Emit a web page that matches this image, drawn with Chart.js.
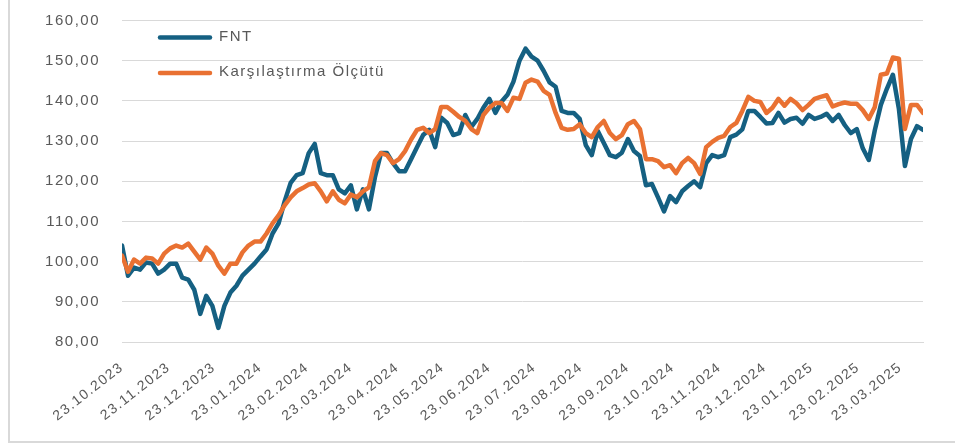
<!DOCTYPE html>
<html>
<head>
<meta charset="utf-8">
<script src="https://cdn.jsdelivr.net/npm/chart.js@4.4.1/dist/chart.umd.min.js"></script>
<style>
    html, body { margin: 0; padding: 0; background: #ffffff; }
    #wrap { width: 955px; height: 445px; }
</style>
</head>
<body>
<div id="wrap"><canvas id="fonChart" width="955" height="445"></canvas></div>
<script>
// x axis tick dates (every 23rd of the month)
const tickLabels = [
    '23.10.2023', '23.11.2023', '23.12.2023', '23.01.2024', '23.02.2024', '23.03.2024',
    '23.04.2024', '23.05.2024', '23.06.2024', '23.07.2024', '23.08.2024', '23.09.2024',
    '23.10.2024', '23.11.2024', '23.12.2024', '23.01.2025', '23.02.2025', '23.03.2025'
];

const seriesNames = ['FNT', 'Karşılaştırma Ölçütü'];

// one value every 4 calendar days starting 23.10.2023
const STEP_DAYS = 4;

const fnt = [
    104, 96.5, 98.5, 98, 99.8, 99.5, 97, 98, 99.5, 99.5,
    96, 95.5, 93, 87, 91.5, 89, 83.5, 89, 92.3, 94,
    96.5, 98, 99.5, 101.3, 103, 107, 109.5, 115, 119.6, 121.5,
    122, 127, 129.3, 122, 121.5, 121.5, 118, 117, 119, 113,
    118, 113, 121, 127, 127, 124.5, 122.5, 122.5, 125.5, 128.5,
    131.5, 132.8, 128.5, 135.8, 134.5, 131.5, 132, 136.5, 133.5, 135.5,
    138.3, 140.5, 137, 139.8, 141.5, 144.8, 150, 153, 151, 150,
    147.5, 144.6, 143.5, 137.5, 137, 137, 135.5, 129, 126.5, 132.5,
    129.5, 126.5, 126, 127.1, 130.5, 127.5, 126.3, 119, 119.3, 116,
    112.5, 116.3, 114.8, 117.5, 118.8, 120, 118.5, 124.5, 126.5, 126,
    126.5, 131, 131.6, 132.9, 137.5, 137.5, 136, 134.4, 134.5, 137,
    134.6, 135.5, 135.8, 134.3, 136.5, 135.5, 136, 136.8, 135, 136.5,
    134, 132, 133, 128.2, 125.3, 132.7, 139, 143, 146.5, 138,
    123.8, 130.5, 133.7, 132.8
];

const olcut = [
    101.5, 97.5, 100.5, 99.5, 101, 100.8, 99.5, 102, 103.3, 104,
    103.5, 104.5, 102.5, 100.5, 103.5, 102, 99, 97, 99.5, 99.5,
    102.3, 104, 105, 105, 107, 109.5, 111.5, 114, 116, 117.5,
    118.3, 119.2, 119.5, 117.5, 115, 117.5, 115.4, 114.5, 116.7, 116,
    117.5, 118.5, 125, 127, 126.5, 124.5, 125.5, 127.5, 130.4, 132.8,
    133.3, 132, 133, 138.5, 138.5, 137.3, 136, 135, 133, 132,
    136.5, 138.3, 139.5, 139.5, 137.5, 140.8, 140.5, 144.5, 145.3, 144.8,
    142.5, 141.5, 137, 133.3, 132.8, 133, 134.2, 132, 131, 133.5,
    135, 132, 130.5, 131.5, 134.2, 135, 133, 125.5, 125.5, 125,
    123.5, 124, 122, 124.5, 125.8, 124.5, 121.8, 128.5, 129.8, 130.8,
    131.3, 133.5, 134.5, 137.5, 141, 140, 139.7, 137, 138.3, 140.5,
    138.8, 140.5, 139.4, 137.7, 139, 140.5, 141, 141.4, 138.6, 139.2,
    139.6, 139.3, 139.3, 137.7, 135.5, 138.5, 146.5, 146.8, 150.8, 150.5,
    133, 139, 139, 137
];

const colors = ['#156082', '#E97132'];
const textColor = '#595959';
const gridColor = '#D9D9D9';
const FONT = "'Liberation Sans', Arial, sans-serif";

function dayOf(s) {
    const [d, m, y] = s.split('.').map(Number);
    return Math.round((Date.UTC(y, m - 1, d) - Date.UTC(2023, 9, 23)) / 86400000);
}

function toPoints(arr) {
    return arr.map((v, i) => ({ x: i * STEP_DAYS, y: v }));
}

// wider text like the office chart
const spacing = {
    id: 'spacing',
    beforeLayout(chart) { chart.ctx.letterSpacing = '1.5px'; },
    beforeDraw(chart) { chart.ctx.letterSpacing = '1.5px'; }
};

// outer frame: left and bottom edges only
const frame = {
    id: 'frame',
    beforeDraw(chart) {
        const ctx = chart.ctx;
        ctx.save();
        ctx.strokeStyle = gridColor;
        ctx.lineWidth = 2;
        ctx.beginPath();
        ctx.moveTo(9, 0);
        ctx.lineTo(9, 442);
        ctx.lineTo(chart.width, 442);
        ctx.stroke();
        ctx.restore();
    }
};

// legend drawn inside the plot, top-left
const innerLegend = {
    id: 'innerLegend',
    afterDraw(chart) {
        const { ctx, chartArea: { left, top } } = chart;
        ctx.save();
        ctx.letterSpacing = '1.5px';
        ctx.font = '15px ' + FONT;
        ctx.textBaseline = 'middle';
        ctx.fillStyle = textColor;
        chart.data.datasets.forEach((ds, i) => {
            const y = top + 17 + i * 35.5;
            ctx.strokeStyle = ds.borderColor;
            ctx.lineWidth = 4.5;
            ctx.lineCap = 'round';
            ctx.beginPath();
            ctx.moveTo(left + 38, y);
            ctx.lineTo(left + 88, y);
            ctx.stroke();
            ctx.fillText(ds.label, left + 97, y - 1);
        });
        ctx.restore();
    }
};

const ctx = document.getElementById('fonChart');

new Chart(ctx, {
    type: 'line',
    data: {
        datasets: [
            {
                label: seriesNames[0],
                data: toPoints(fnt),
                borderColor: colors[0],
                backgroundColor: colors[0],
                order: 2
            },
            {
                label: seriesNames[1],
                data: toPoints(olcut),
                borderColor: colors[1],
                backgroundColor: colors[1],
                order: 1
            }
        ]
    },
    plugins: [spacing, frame, innerLegend],
    options: {
        responsive: false,
        animation: false,
        events: [],
        layout: {
            padding: { top: 20.5, right: 32, bottom: 0, left: 0 }
        },
        elements: {
            point: { radius: 0 },
            line: {
                borderWidth: 4.5,
                tension: 0,
                borderJoinStyle: 'round',
                borderCapStyle: 'round'
            }
        },
        scales: {
            x: {
                type: 'linear',
                min: 0,
                max: (fnt.length - 1) * STEP_DAYS,
                grid: { display: false },
                border: { display: true, color: gridColor, width: 1 },
                afterBuildTicks: (scale) => {
                    scale.ticks = tickLabels.map(l => ({ value: dayOf(l) }));
                },
                afterFit: (scale) => { scale.height = 103; },
                ticks: {
                    autoSkip: false,
                    minRotation: 38,
                    maxRotation: 38,
                    padding: 9,
                    color: textColor,
                    font: { family: FONT, size: 14 },
                    callback: (v, i) => tickLabels[i]
                }
            },
            y: {
                min: 80,
                max: 160,
                grid: { color: gridColor, lineWidth: 1, drawTicks: false },
                border: { display: false },
                afterFit: (scale) => {
                    scale.width = 122;
                    scale.paddingTop = 0;
                    scale.paddingBottom = 0;
                },
                ticks: {
                    stepSize: 10,
                    padding: 22,
                    color: textColor,
                    font: { family: FONT, size: 15 },
                    callback: (v) => v.toFixed(2).replace('.', ',')
                }
            }
        },
        plugins: {
            legend: { display: false },
            tooltip: { enabled: false }
        }
    }
});
</script>
</body>
</html>
